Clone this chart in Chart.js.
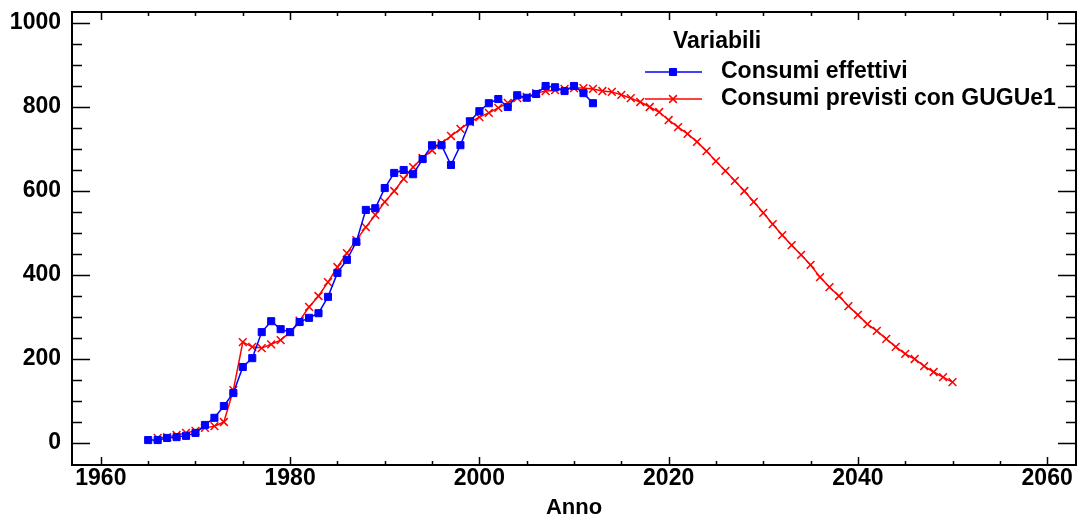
<!DOCTYPE html>
<html>
<head>
<meta charset="utf-8">
<script src="https://cdn.jsdelivr.net/npm/chart.js@4/dist/chart.umd.min.js"></script>
<style>
html,body{margin:0;padding:0;background:#fff;}
#wrap{width:1083px;height:521px;position:relative;}
</style>
</head>
<body>
<div id="wrap"><canvas id="c" width="1083" height="521"></canvas></div>
<script>
const effYears = [1965,1966,1967,1968,1969,1970,1971,1972,1973,1974,1975,1976,1977,1978,1979,1980,1981,1982,1983,1984,1985,1986,1987,1988,1989,1990,1991,1992,1993,1994,1995,1996,1997,1998,1999,2000,2001,2002,2003,2004,2005,2006,2007,2008,2009,2010,2011,2012];
const effValues = [7,7,12,14,17,24,43,60,88,119,181,202,264,290,271,264,288,298,309,348,405,436,479,555,559,607,643,650,640,676,709,709,662,709,766,790,809,819,800,828,822,831,850,847,838,850,833,809];

const prevYears = [1966,1967,1968,1969,1970,1971,1972,1973,1974,1975,1976,1977,1978,1979,1980,1981,1982,1983,1984,1985,1986,1987,1988,1989,1990,1991,1992,1993,1994,1995,1996,1997,1998,1999,2000,2001,2002,2003,2004,2005,2006,2007,2008,2009,2010,2011,2012,2013,2014,2015,2016,2017,2018,2019,2020,2021,2022,2023,2024,2025,2026,2027,2028,2029,2030,2031,2032,2033,2034,2035,2036,2037,2038,2039,2040,2041,2042,2043,2044,2045,2046,2047,2048,2049,2050];
const prevValues = [12,14,19,24,29,36,40,50,126,240,229,226,235,245,264,291,324,350,383,419,452,483,514,543,574,600,629,657,679,697,714,731,748,764,776,786,798,810,821,824,833,838,840,843,845,845,843,838,836,829,821,812,800,788,769,752,736,717,695,671,648,624,600,574,548,521,495,471,448,424,395,371,350,326,305,283,267,248,229,212,200,183,169,157,145];

const xTickValues = [1960,1980,2000,2020,2040,2060];
const yTickValues = [0,200,400,600,800,1000];
const xMinorStep = 5;
const yMinorStep = 50;

const seriesNames = ['Consumi effettivi','Consumi previsti con GUGUe1'];
const legendTitle = 'Variabili';
const xTitle = 'Anno';

const FONT = '"Liberation Sans", Arial, sans-serif';

const framePlugin = {
  id: 'frame',
  afterDatasetsDraw(chart) {
    const ctx = chart.ctx, a = chart.chartArea;
    const xs = chart.scales.x, ys = chart.scales.y;
    ctx.save();
    ctx.strokeStyle = '#000';
    ctx.lineWidth = 2;
    ctx.strokeRect(a.left, a.top, a.right - a.left, a.bottom - a.top);
    ctx.lineWidth = 1.5;
    ctx.beginPath();
    for (let v = yTickValues[0]; v <= yTickValues[yTickValues.length-1]; v += yMinorStep) {
      const p = Math.round(ys.getPixelForValue(v)) + 0.5;
      const major = yTickValues.includes(v);
      const L = major ? 18 : 10;
      ctx.moveTo(a.left, p); ctx.lineTo(a.left + L, p);
      ctx.moveTo(a.right, p); ctx.lineTo(a.right - L, p);
    }
    for (let v = xTickValues[0]; v <= xTickValues[xTickValues.length-1]; v += xMinorStep) {
      const p = Math.round(xs.getPixelForValue(v)) + 0.5;
      const major = xTickValues.includes(v);
      const L = major ? 8 : 4;
      ctx.moveTo(p, a.bottom); ctx.lineTo(p, a.bottom - L);
      ctx.moveTo(p, a.top); ctx.lineTo(p, a.top + L);
    }
    ctx.stroke();
    ctx.restore();
  }
};

const legendPlugin = {
  id: 'customLegend',
  afterDraw(chart) {
    const ctx = chart.ctx;
    ctx.save();
    ctx.fillStyle = '#000';
    ctx.font = 'bold 23px ' + FONT;
    ctx.textBaseline = 'middle';
    ctx.textAlign = 'left';
    ctx.fillText(legendTitle, 673, 42);
    const rows = [72, 99];
    chart.data.datasets.forEach((ds, i) => {
      const y = rows[i];
      ctx.strokeStyle = ds.borderColor;
      ctx.lineWidth = ds.borderWidth;
      ctx.beginPath();
      ctx.moveTo(645, y); ctx.lineTo(702, y);
      ctx.stroke();
      ctx.fillStyle = ds.pointBackgroundColor;
      ctx.strokeStyle = ds.pointBorderColor;
      ctx.lineWidth = ds.pointBorderWidth;
      Chart.helpers.drawPoint(ctx, {
        pointStyle: ds.pointStyle, radius: ds.pointRadius, rotation: 0,
        borderWidth: ds.pointBorderWidth
      }, 673, y);
      ctx.fillStyle = '#000';
      ctx.font = 'bold 23px ' + FONT;
      ctx.fillText(seriesNames[i], 721, y);
    });
    ctx.restore();
  }
};

new Chart(document.getElementById('c'), {
  type: 'scatter',
  data: {
    datasets: [
      {
        label: seriesNames[0],
        data: effYears.map((x, i) => ({x, y: effValues[i]})),
        showLine: true,
        borderColor: '#0000ff',
        backgroundColor: '#0000ff',
        borderWidth: 1.5,
        pointStyle: 'rect',
        pointRadius: 5,
        pointBorderWidth: 1,
        pointBackgroundColor: '#0000ff',
        pointBorderColor: '#0000ff'
      },
      {
        label: seriesNames[1],
        data: prevYears.map((x, i) => ({x, y: prevValues[i]})),
        showLine: true,
        borderColor: '#ff0000',
        backgroundColor: '#ff0000',
        borderWidth: 1.5,
        pointStyle: 'crossRot',
        pointRadius: 5.5,
        pointBorderWidth: 1.5,
        pointBackgroundColor: '#ff0000',
        pointBorderColor: '#ff0000'
      }
    ]
  },
  options: {
    responsive: false,
    animation: false,
    layout: { padding: { left: 0, right: 2, top: 12, bottom: 0 } },
    plugins: { legend: { display: false }, tooltip: { enabled: false } },
    scales: {
      x: {
        type: 'linear',
        min: 1956.95, max: 2063.05,
        afterBuildTicks: s => { s.ticks = xTickValues.map(v => ({value: v})); },
        afterFit: s => { s.height = 56; s.paddingLeft = 0; s.paddingRight = 0; },
        grid: { display: false, drawTicks: false },
        border: { display: false },
        ticks: { color: '#000', font: { family: FONT, size: 23, weight: 'bold' }, padding: 0, maxRotation: 0, callback: v => String(v) },
        title: { display: true, text: xTitle, color: '#000', font: { family: FONT, size: 22, weight: 'bold' }, padding: { top: 0, bottom: 0 } }
      },
      y: {
        type: 'linear',
        min: -52.4, max: 1026.2,
        afterBuildTicks: s => { s.ticks = yTickValues.map(v => ({value: v})); },
        afterFit: s => { s.width = 72; s.paddingTop = 0; s.paddingBottom = 0; },
        grid: { display: false, drawTicks: false },
        border: { display: false },
        ticks: { color: '#000', font: { family: FONT, size: 23, weight: 'bold' }, padding: 11, callback: v => String(v) }
      }
    }
  },
  plugins: [framePlugin, legendPlugin]
});
</script>
</body>
</html>
